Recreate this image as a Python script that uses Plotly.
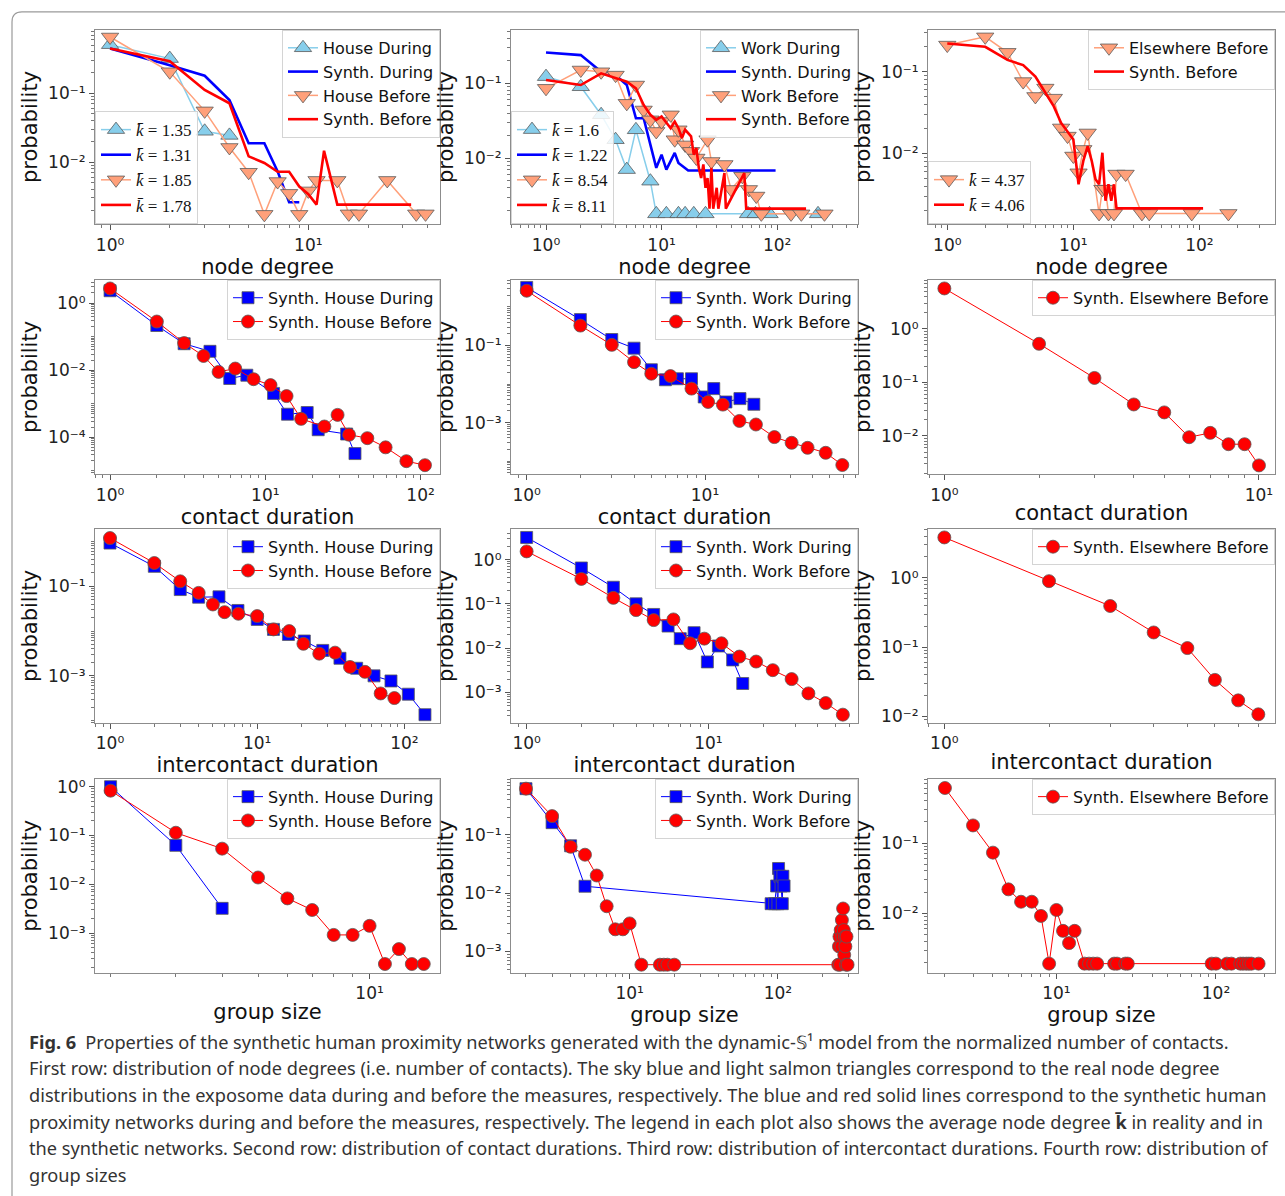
import numpy as np
import plotly.graph_objects as go

# ---------------- data ----------------
# Row 1: node degree distributions
p1_house_during_x = [1, 2, 3, 4]
p1_house_during_y = [0.51, 0.32, 0.028, 0.0244]
p1_synth_during_x = [1, 2, 3, 4, 5, 6, 7, 8, 9]
p1_synth_during_y = [0.449, 0.257, 0.18, 0.080, 0.0188, 0.0188, 0.0073, 0.0026, 0.0026]
p1_house_before_x = [1, 2, 3, 4, 5, 6, 7, 8, 9, 10, 11, 14, 16, 18, 25, 35, 39]
p1_house_before_y = [0.66, 0.206, 0.0555, 0.0163, 0.0071, 0.00173, 0.0052, 0.0035, 0.00173,
                     0.0038, 0.0054, 0.0054, 0.00176, 0.00176, 0.0054, 0.00176, 0.00176]
p1_synth_before_x = [1, 2, 3, 4, 5, 6, 7, 8, 9, 10, 11, 12, 14, 33]
p1_synth_before_y = [0.449, 0.294, 0.112, 0.0716, 0.0121, 0.0097, 0.0072, 0.0072, 0.0044,
                     0.0034, 0.0024, 0.0146, 0.0024, 0.0024]
p1_kbar = ["1.35", "1.31", "1.85", "1.78"]

p2_work_during_x = [1, 2, 3, 4, 5, 6, 8, 9, 11, 14, 16, 19, 24, 56, 65, 86, 226]
p2_work_during_y = [0.123, 0.090, 0.038, 0.0176, 0.0070, 0.0239, 0.0049, 0.00179, 0.00179,
                    0.00179, 0.00179, 0.00179, 0.00179, 0.00179, 0.00179, 0.00179, 0.00179]
p2_synth_during_x = [1, 2, 3, 4, 5, 6, 7, 8, 9, 10, 11, 13, 14, 17, 97]
p2_synth_during_y = [0.259, 0.239, 0.143, 0.129, 0.095, 0.0341, 0.0341, 0.0151, 0.0074,
                     0.0111, 0.0070, 0.0117, 0.0086, 0.0068, 0.0068]
p2_work_before_x = [1, 2, 3, 4, 5, 6, 7, 8, 9, 10, 12, 13, 14, 16, 18, 20, 25, 27, 35, 40,
                    50, 57, 66, 73, 132, 162, 257]
p2_work_before_y = [0.0858, 0.151, 0.143, 0.129, 0.054, 0.095, 0.044, 0.0325, 0.0227, 0.0308,
                    0.0379, 0.0176, 0.0239, 0.0150, 0.0123, 0.010, 0.0176, 0.009, 0.0082,
                    0.0038, 0.0057, 0.0038, 0.0031, 0.00179, 0.00179, 0.00179, 0.00179]
p2_synth_before_x = [1, 2, 3, 4, 5, 6, 7, 8, 9, 10, 11, 12, 13, 14, 15, 16, 18, 19, 20, 21,
                     22, 23, 24, 25, 26, 27, 28, 30, 31, 35, 36, 52, 54, 178]
p2_synth_before_y = [0.111, 0.095, 0.136, 0.117, 0.105, 0.0858, 0.0514, 0.0379, 0.0325, 0.036,
                     0.0293, 0.0251, 0.0308, 0.0251, 0.0185, 0.0239, 0.0195, 0.0111, 0.0136,
                     0.0074, 0.0054, 0.0082, 0.004, 0.0054, 0.0021, 0.0074, 0.0021, 0.004,
                     0.0021, 0.0063, 0.0021, 0.0063, 0.0021, 0.0021]
p2_kbar = ["1.6", "1.22", "8.54", "8.11"]

p3_else_before_x = [1, 2, 3, 4, 5, 6, 7, 8, 9, 10, 11, 12, 13, 16, 17, 18, 19, 21, 22, 26,
                    35, 40, 87, 170]
p3_else_before_y = [0.211, 0.266, 0.172, 0.0756, 0.0497, 0.0629, 0.0474, 0.0205, 0.0163,
                    0.0093, 0.0058, 0.0112, 0.0178, 0.00185, 0.00366, 0.00366, 0.00185,
                    0.00185, 0.0056, 0.0056, 0.00185, 0.00185, 0.00185, 0.00185]
p3_synth_before_x = [1, 2, 3, 4, 5, 6, 7, 8, 9, 10, 11, 12, 13, 14, 15, 16, 17, 18, 19, 20,
                     21, 22, 23, 107]
p3_synth_before_y = [0.221, 0.201, 0.139, 0.120, 0.087, 0.0546, 0.0376, 0.0236, 0.0187,
                     0.0148, 0.0042, 0.0081, 0.0123, 0.0081, 0.00483, 0.0042, 0.0102,
                     0.00264, 0.0042, 0.00264, 0.0042, 0.00213, 0.00213, 0.00213]
p3_kbar = ["4.37", "4.06"]

# Row 2: contact durations
p4_during_x = [1, 2, 3, 4.4, 5.9, 7.6, 11.3, 13.9, 18.6, 21.9, 33.4, 37.8]
p4_during_y = [2.32, 0.214, 0.0614, 0.0365, 0.00567, 0.0071, 0.00204, 0.00049, 0.00055,
               0.000169, 0.000126, 3.3e-5]
p4_before_x = [1, 2, 3, 4, 5, 6.4, 8.4, 10.8, 13.7, 17, 24, 29.2, 34.6, 45.4, 59.5, 81, 106.7]
p4_before_y = [2.71, 0.281, 0.0643, 0.0265, 0.0089, 0.0112, 0.0054, 0.0036, 0.0017, 0.000356,
               0.000211, 0.000468, 0.00012, 9.5e-5, 5.06e-5, 1.96e-5, 1.49e-5]
p5_during_x = [1, 2, 3, 4, 5, 6, 7, 8.4, 9.9, 11.2, 13.1, 15.7, 18.8]
p5_during_y = [3.22, 0.47, 0.143, 0.0853, 0.0235, 0.0129, 0.0137, 0.0137, 0.00461, 0.0076,
               0.00342, 0.00418, 0.00298]
p5_before_x = [1, 2, 3, 4, 5, 6.4, 8.4, 10.4, 12.6, 15.6, 19.3, 24.5, 30.6, 37.6, 47.5, 58.9]
p5_before_y = [2.64, 0.329, 0.104, 0.037, 0.0185, 0.0161, 0.0076, 0.00342, 0.00292, 0.0011,
               0.00089, 0.00042, 0.000298, 0.000221, 0.000164, 7.9e-5]
p6_before_x = [1, 2, 3, 4, 5, 6, 7, 8, 9, 10]
p6_before_y = [5.69, 0.526, 0.121, 0.0387, 0.0275, 0.00945, 0.0114, 0.0070, 0.0070, 0.00281]

# Row 3: intercontact durations
p7_during_x = [1, 2, 3, 4, 5.5, 7.4, 10, 12.9, 16.3, 20.9, 27.9, 36.5, 47.4, 62.2, 81.1,
               106.4, 138]
p7_during_y = [0.918, 0.278, 0.0843, 0.057, 0.058, 0.0288, 0.0182, 0.0109, 0.0084, 0.006,
               0.0037, 0.00247, 0.00148, 0.001, 0.00077, 0.00039, 0.000136]
p7_before_x = [1, 2, 3, 4, 5, 6, 7.45, 10, 12.9, 16.5, 20.6, 26.4, 33.8, 42.7, 54, 69, 85.5]
p7_before_y = [1.19, 0.33, 0.129, 0.0711, 0.0392, 0.0264, 0.0243, 0.0216, 0.0109, 0.01,
               0.0052, 0.00313, 0.0033, 0.00158, 0.00123, 0.000405, 0.00032]
p8_during_x = [1, 2, 3, 4, 5, 6, 7, 8.34, 9.87, 11.35, 13.6, 15.45]
p8_during_y = [3.18, 0.649, 0.238, 0.1005, 0.0578, 0.0316, 0.0164, 0.0224, 0.00489, 0.0112,
               0.00542, 0.00159]
p8_before_x = [1, 2, 3, 4, 5, 6.42, 7.93, 9.5, 11.8, 14.8, 18.3, 22.6, 28.7, 35.5, 44.2, 54.9]
p8_before_y = [1.54, 0.367, 0.137, 0.0724, 0.0431, 0.0446, 0.0129, 0.0164, 0.0129, 0.00645,
               0.00498, 0.00318, 0.002, 0.00095, 0.000575, 0.000314]
p9_before_x = [1, 2, 3, 4, 5, 6, 7, 8]
p9_before_y = [3.83, 0.895, 0.392, 0.1625, 0.0968, 0.0336, 0.017, 0.0107]

# Row 4: group sizes
p10_during_x = [2, 3, 4]
p10_during_y = [1.0, 0.0629, 0.00322]
p10_before_x = [2, 3, 4, 5, 6, 7, 8, 9, 10, 11, 12, 13, 14]
p10_before_y = [0.829, 0.114, 0.0538, 0.0138, 0.00515, 0.00298, 0.00092, 0.00092, 0.00141,
                0.000233, 0.000471, 0.000233, 0.000233]
p11_during_x = [2, 3, 4, 5, 90, 95, 98, 100, 101, 103, 105, 107, 108, 110]
p11_during_y = [0.621, 0.162, 0.065, 0.01315, 0.0066, 0.0066, 0.0133, 0.0066, 0.0265, 0.0195,
                0.0133, 0.0066, 0.0195, 0.0133]
p11_before_x = [2, 3, 4, 5, 6, 7, 8, 9, 10, 12, 16, 17, 18, 20, 255, 258, 260, 262, 265, 268,
                270, 272, 275, 278, 280, 283, 285, 288, 290, 295]
p11_before_y = [0.621, 0.21, 0.0625, 0.0457, 0.0201, 0.00597, 0.0024, 0.0024, 0.00303,
                0.000593, 0.000593, 0.000593, 0.000593, 0.000593, 0.000593, 0.00122, 0.0018,
                0.000593, 0.00233, 0.00122, 0.00345, 0.0018, 0.00546, 0.00233, 0.000877,
                0.0018, 0.00122, 0.000593, 0.0018, 0.000593]
p12_before_x = [2, 3, 4, 5, 6, 7, 8, 9, 10, 11, 12, 13, 15, 16, 17, 18, 23, 24, 27, 28, 94,
                100, 117, 125, 142, 148, 155, 161, 167, 185]
p12_before_y = [0.607, 0.178, 0.073, 0.0219, 0.0146, 0.0146, 0.00917, 0.00192, 0.01114,
                0.00562, 0.00376, 0.00562] + [0.00192] * 18

x_titles = ["node degree", "contact duration", "intercontact duration", "group size"]
y_title = "probability"

caption_lines = [
    "<b>Fig. 6</b>\u2002Properties of the synthetic human proximity networks generated with the dynamic-\U0001D54A\u00b9 model from the normalized number of contacts.",
    "First row: distribution of node degrees (i.e. number of contacts). The sky blue and light salmon triangles correspond to the real node degree",
    "distributions in the exposome data during and before the measures, respectively. The blue and red solid lines correspond to the synthetic human",
    "proximity networks during and before the measures, respectively. The legend in each plot also shows the average node degree <b>k\u0304</b> in reality and in",
    "the synthetic networks. Second row: distribution of contact durations. Third row: distribution of intercontact durations. Fourth row: distribution of",
    "group sizes",
]

# ---------------- layout geometry ----------------
W, H = 1285, 1196
COLS = [(95, 440), (511, 858), (928, 1275)]
ROWS = [(28, 223), (279, 474), (529, 724), (780, 975)]

SKY, SALMON, BLUE, RED, EDGE = "#87CEEB", "#FFA07A", "#0000FF", "#FF0000", "#5a5a5a"
FONT = "DejaVu Sans"
SUP = str.maketrans("0123456789-", "\u2070\u00b9\u00b2\u00b3\u2074\u2075\u2076\u2077\u2078\u2079\u207b")

def fx(p):
    return p / W

def fy(p):
    return 1 - p / H

STYLES = {
    "real_during": dict(mode="lines+markers", line=dict(color=SKY, width=1.5),
                        marker=dict(symbol="triangle-up", size=15, color=SKY,
                                    line=dict(color=EDGE, width=0.8))),
    "real_before": dict(mode="lines+markers", line=dict(color=SALMON, width=1.5),
                        marker=dict(symbol="triangle-down", size=15, color=SALMON,
                                    line=dict(color=EDGE, width=0.8))),
    "synth_during": dict(mode="lines", line=dict(color=BLUE, width=2.6)),
    "synth_before": dict(mode="lines", line=dict(color=RED, width=2.6)),
    "sq": dict(mode="lines+markers", line=dict(color=BLUE, width=1),
               marker=dict(symbol="square", size=12, color=BLUE, line=dict(color=EDGE, width=0.8))),
    "circ": dict(mode="lines+markers", line=dict(color=RED, width=1),
                 marker=dict(symbol="circle", size=13, color=RED, line=dict(color=EDGE, width=0.8))),
}

# panel axis ranges (log10 units) and labelled decades
panels = [
    dict(xr=[-0.076, 1.664], yr=[-2.903, -0.077], xt=[1, 10], yt=[0.1, 0.01]),
    dict(xr=[-0.303, 2.70], yr=[-2.884, -0.284], xt=[1, 10, 100], yt=[0.1, 0.01]),
    dict(xr=[-0.153, 2.60], yr=[-2.863, -0.49], xt=[1, 10, 100], yt=[0.1, 0.01]),
    dict(xr=[-0.097, 2.125], yr=[-5.09, 0.69], xt=[1, 10, 100], yt=[1, 1e-2, 1e-4]),
    dict(xr=[-0.088, 1.858], yr=[-4.336, 0.705], xt=[1, 10], yt=[1e-1, 1e-3]),
    dict(xr=[-0.052, 1.051], yr=[-2.712, 0.916], xt=[1, 10], yt=[1, 1e-1, 1e-2]),
    dict(xr=[-0.102, 2.242], yr=[-4.051, 0.282], xt=[1, 10, 100], yt=[1e-1, 1e-3]),
    dict(xr=[-0.086, 1.823], yr=[-3.691, 0.698], xt=[1, 10], yt=[1, 1e-1, 1e-2, 1e-3]),
    dict(xr=[-0.047, 0.951], yr=[-2.096, 0.708], xt=[1], yt=[1, 1e-1, 1e-2]),
    dict(xr=[0.259, 1.190], yr=[-3.815, 0.163], xt=[10], yt=[1, 1e-1, 1e-2, 1e-3]),
    dict(xr=[0.2, 2.54], yr=[-3.368, -0.037], xt=[10, 100], yt=[1e-1, 1e-2, 1e-3]),
    dict(xr=[0.195, 2.37], yr=[-2.849, -0.085], xt=[10, 100], yt=[1e-1, 1e-2]),
]

def pow_label(v):
    e = int(round(np.log10(v)))
    return "10" + str(e).translate(SUP)

def minor_vals(rng, majors):
    lo, hi = rng
    out = []
    for d in range(int(np.floor(lo)) - 1, int(np.ceil(hi)) + 1):
        for k in range(1, 10):
            v = k * 10.0 ** d
            lv = np.log10(v)
            if lo <= lv <= hi and all(abs(lv - np.log10(m)) > 1e-6 for m in majors):
                out.append(v)
    return out

fig = go.Figure()

def sfx(n):
    return "" if n == 1 else str(n)

def add(n, x, y, name, kind, legend=None):
    fig.add_trace(go.Scatter(x=x, y=y, name=name, xaxis="x" + sfx(n), yaxis="y" + sfx(n),
                             legend=legend or ("legend" + sfx(n)), hoverinfo="x+y+name",
                             **STYLES[kind]))

# Row 1
add(1, p1_house_during_x, p1_house_during_y, "House During", "real_during")
add(1, p1_synth_during_x, p1_synth_during_y, "Synth. During", "synth_during")
add(1, p1_house_before_x, p1_house_before_y, "House Before", "real_before")
add(1, p1_synth_before_x, p1_synth_before_y, "Synth. Before", "synth_before")
add(2, p2_work_during_x, p2_work_during_y, "Work During", "real_during")
add(2, p2_synth_during_x, p2_synth_during_y, "Synth. During", "synth_during")
add(2, p2_work_before_x, p2_work_before_y, "Work Before", "real_before")
add(2, p2_synth_before_x, p2_synth_before_y, "Synth. Before", "synth_before")
add(3, p3_else_before_x, p3_else_before_y, "Elsewhere Before", "real_before")
add(3, p3_synth_before_x, p3_synth_before_y, "Synth. Before", "synth_before")
# Rows 2-4
for n, dx, dy, bx, by, place in [
    (4, p4_during_x, p4_during_y, p4_before_x, p4_before_y, "House"),
    (5, p5_during_x, p5_during_y, p5_before_x, p5_before_y, "Work"),
    (7, p7_during_x, p7_during_y, p7_before_x, p7_before_y, "House"),
    (8, p8_during_x, p8_during_y, p8_before_x, p8_before_y, "Work"),
    (10, p10_during_x, p10_during_y, p10_before_x, p10_before_y, "House"),
    (11, p11_during_x, p11_during_y, p11_before_x, p11_before_y, "Work"),
]:
    add(n, dx, dy, f"Synth. {place} During", "sq")
    add(n, bx, by, f"Synth. {place} Before", "circ")
for n, bx, by in [(6, p6_before_x, p6_before_y), (9, p9_before_x, p9_before_y),
                  (12, p12_before_x, p12_before_y)]:
    add(n, bx, by, "Synth. Elsewhere Before", "circ")

# average-degree legends (legend entries only)
kinds4 = ["real_during", "synth_during", "real_before", "synth_before"]
for n, vals, kinds, leg in [(1, p1_kbar, kinds4, "legend13"), (2, p2_kbar, kinds4, "legend14"),
                            (3, p3_kbar, ["real_before", "synth_before"], "legend15")]:
    for v, k in zip(vals, kinds):
        add(n, [None], [None], "<i>k\u0304</i> = " + v, k, legend=leg)

layout = dict(width=W, height=H, margin=dict(l=0, r=0, t=0, b=0),
              paper_bgcolor="white", plot_bgcolor="white", showlegend=True,
              font=dict(family=FONT, color="#111"))

leg_common = dict(xref="paper", yref="paper", bgcolor="rgba(255,255,255,0.85)",
                  bordercolor="#d4d4d4", borderwidth=1, itemwidth=30, tracegroupgap=0,
                  traceorder="normal", font=dict(family=FONT, size=16, color="#111"))

for i, pn in enumerate(panels):
    n = i + 1
    r, c = divmod(i, 3)
    x0, x1 = COLS[c]
    y0, y1 = ROWS[r]
    common = dict(type="log", showline=True, mirror=True, linecolor="#8c8c8c", linewidth=1.2,
                  ticks="outside", ticklen=5, tickwidth=1, tickcolor="#555", showgrid=False,
                  zeroline=False, tickmode="array",
                  tickfont=dict(family=FONT, size=17, color="#222"))
    xa = dict(common, domain=[fx(x0), fx(x1)], range=pn["xr"], anchor="y" + sfx(n),
              tickvals=pn["xt"], ticktext=[pow_label(v) for v in pn["xt"]],
              minor=dict(tickmode="array", tickvals=minor_vals(pn["xr"], pn["xt"]),
                         ticks="outside", ticklen=3, tickwidth=0.8, tickcolor="#777",
                         showgrid=False),
              title=dict(text=x_titles[r], font=dict(family=FONT, size=21, color="#111"),
                         standoff=1))
    ya = dict(common, domain=[fy(y1), fy(y0)], range=pn["yr"], anchor="x" + sfx(n),
              tickvals=pn["yt"], ticktext=[pow_label(v) for v in pn["yt"]],
              minor=dict(tickmode="array", tickvals=minor_vals(pn["yr"], pn["yt"]),
                         ticks="outside", ticklen=3, tickwidth=0.8, tickcolor="#777",
                         showgrid=False),
              title=dict(text=y_title, font=dict(family=FONT, size=21, color="#111"),
                         standoff=4))
    layout["xaxis" + sfx(n)] = xa
    layout["yaxis" + sfx(n)] = ya
    layout["legend" + sfx(n)] = dict(leg_common, x=fx(x1), y=fy(y0), xanchor="right",
                                     yanchor="top")

for leg, c in [("legend13", 0), ("legend14", 1), ("legend15", 2)]:
    x0, x1 = COLS[c]
    y0, y1 = ROWS[0]
    layout[leg] = dict(leg_common, x=fx(x0), y=fy(y1), xanchor="left", yanchor="bottom",
                       font=dict(family="Liberation Serif", size=17, color="#111"))

fig.update_layout(**layout)

# caption
for k, line in enumerate(caption_lines):
    fig.add_annotation(x=fx(27), y=fy(1044 + k * 26.8), xref="paper", yref="paper",
                       xanchor="left", yanchor="middle", showarrow=False, text=line,
                       font=dict(family="Noto Sans", size=18.2, color="#333"))

# outer frame with rounded top-left corner
r_px = 10
path = (f"M {fx(12)},{fy(1210)} L {fx(12)},{fy(10 + r_px)} "
        f"Q {fx(12)},{fy(10)} {fx(12 + r_px)},{fy(10)} L {fx(1300)},{fy(10)}")
fig.add_shape(type="path", path=path, xref="paper", yref="paper",
              line=dict(color="#9a9a9a", width=1.2))

fig.write_html("out.html", config={"displayModeBar": False},
               post_script="document.body.style.margin='0';document.body.style.padding='0';")
